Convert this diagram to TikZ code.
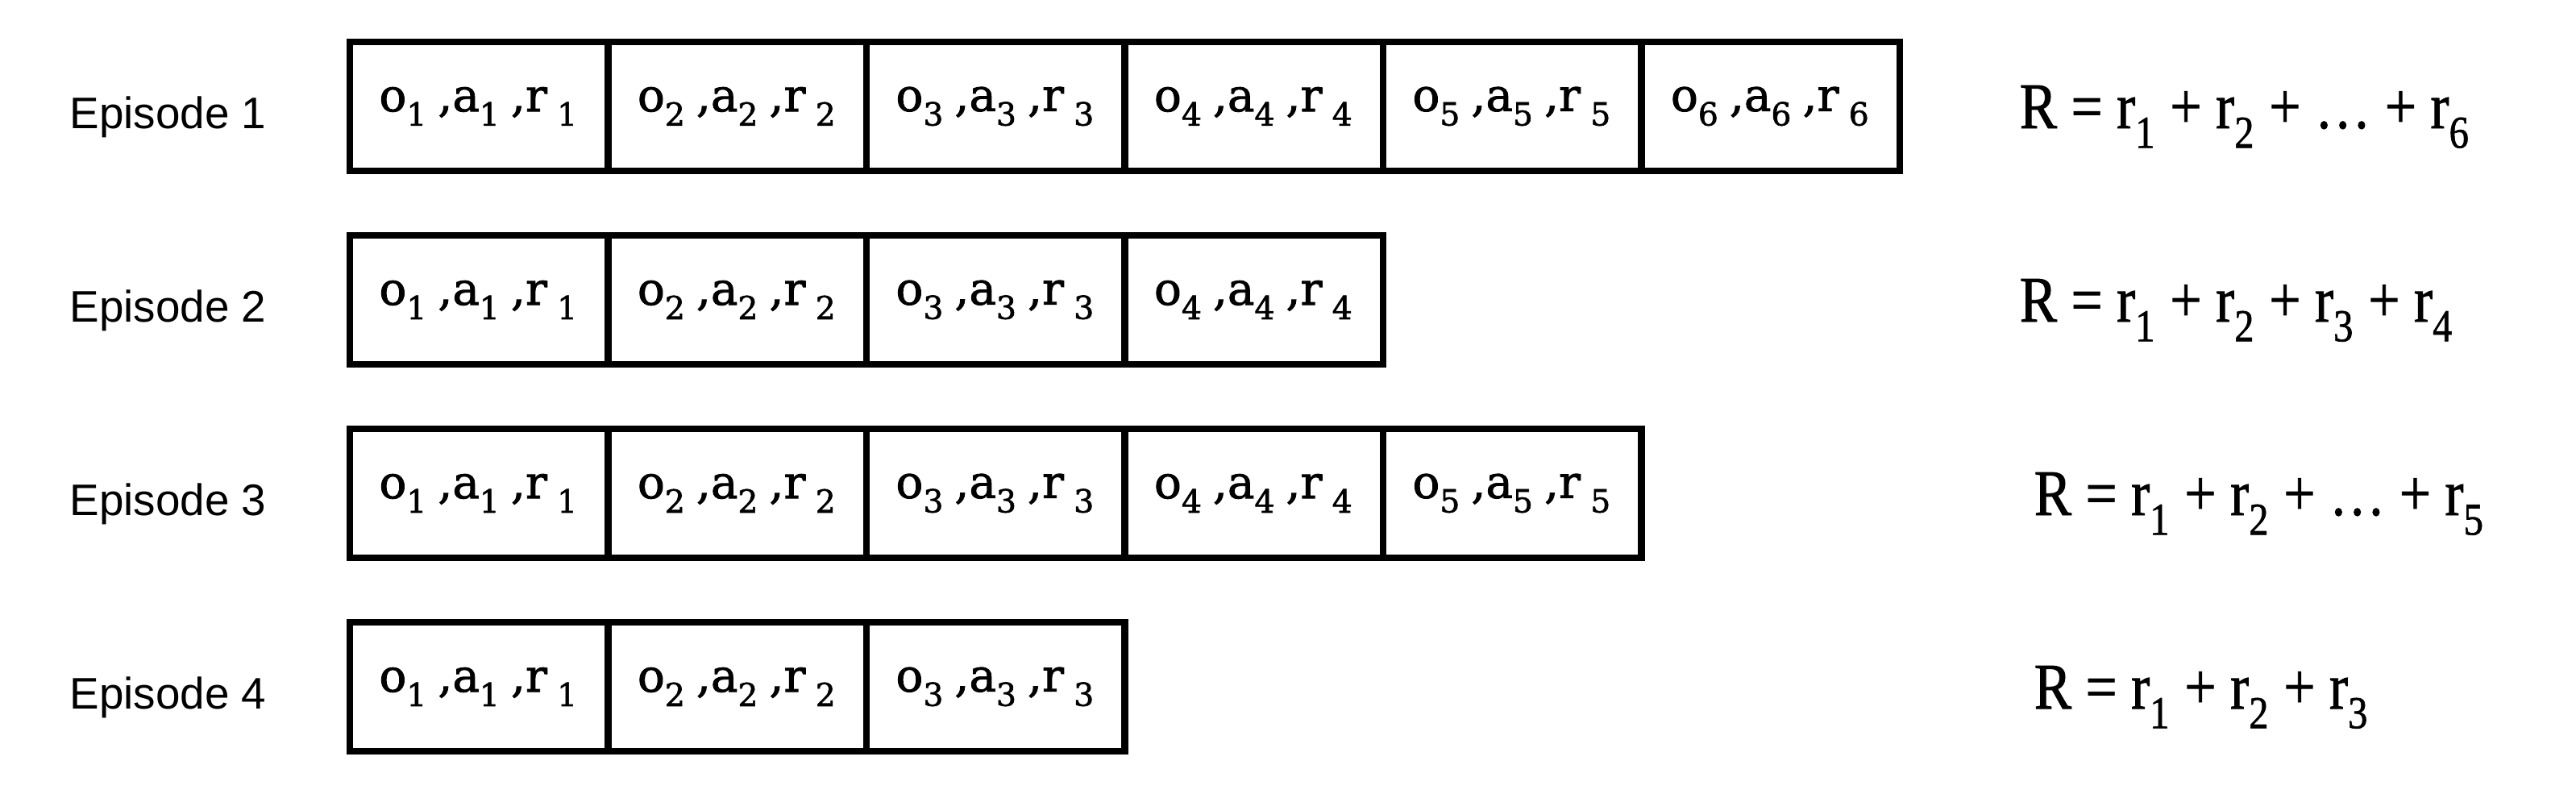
\documentclass[tikz,border=0pt]{standalone}
\usepackage{fontspec}
\usepackage{graphicx}
\setmainfont[FakeBold=1.2]{Liberation Serif}
\newfontfamily\labelfont{Liberation Sans}
\newfontfamily\cellfont[FakeBold=1.6]{DejaVu Serif}
\usetikzlibrary{positioning}
% subindice algo mas bajo que \textsubscript
\newcommand{\lowsub}[1]{\raisebox{-0.3ex}{\textsubscript{#1}}}
% contenido de una celda: o_k , a_k , r_k
\newcommand{\obsact}[1]{o\lowsub{#1}\hspace{0.22em},a\lowsub{#1}\hspace{0.22em},r\hspace{0.22em}\lowsub{#1}}
\newcommand{\sumtxt}[1]{\scalebox{0.86}[1]{#1}}

\begin{document}
\begin{tikzpicture}[
  cellbox/.style={draw,line width=2.5pt,minimum width=3.205cm,minimum height=1.60cm,inner sep=0pt,outer sep=0pt,font=\cellfont\fontsize{16}{19}\selectfont},
  eplabel/.style={anchor=base west,inner sep=0pt,font=\labelfont\fontsize{15.6}{18}\selectfont},
  rsum/.style={anchor=base west,inner sep=0pt,font=\fontsize{23}{27}\selectfont}]
  \useasboundingbox (0,0) rectangle (31.96,-9.84);
  % ===================== episodio 1 =====================
  \node[eplabel] (ep1) at (0.86,-1.59) {Episode 1};
  \node[cellbox,anchor=west] (c11) at (4.34,-1.32) {\obsact{1}};
  \foreach \k [count=\j from 2] in {1,...,5}
    \node[cellbox,right=0pt of c1\k] (c1\j) {\obsact{\j}};
  \node[rsum] (sum1) at (25.05,-1.59) {\sumtxt{R = r\lowsub{1} + r\lowsub{2} + \ldots\ + r\lowsub{6}}};
  % ===================== episodio 2 =====================
  \node[eplabel] (ep2) at (0.86,-3.99) {Episode 2};
  \node[cellbox,anchor=west] (c21) at (4.34,-3.72) {\obsact{1}};
  \foreach \k [count=\j from 2] in {1,...,3}
    \node[cellbox,right=0pt of c2\k] (c2\j) {\obsact{\j}};
  \node[rsum] (sum2) at (25.05,-3.99) {\sumtxt{R = r\lowsub{1} + r\lowsub{2} + r\lowsub{3} + r\lowsub{4}}};
  % ===================== episodio 3 =====================
  \node[eplabel] (ep3) at (0.86,-6.39) {Episode 3};
  \node[cellbox,anchor=west] (c31) at (4.34,-6.12) {\obsact{1}};
  \foreach \k [count=\j from 2] in {1,...,4}
    \node[cellbox,right=0pt of c3\k] (c3\j) {\obsact{\j}};
  \node[rsum] (sum3) at (25.23,-6.39) {\sumtxt{R = r\lowsub{1} + r\lowsub{2} + \ldots\ + r\lowsub{5}}};
  % ===================== episodio 4 =====================
  \node[eplabel] (ep4) at (0.86,-8.79) {Episode 4};
  \node[cellbox,anchor=west] (c41) at (4.34,-8.52) {\obsact{1}};
  \foreach \k [count=\j from 2] in {1,...,2}
    \node[cellbox,right=0pt of c4\k] (c4\j) {\obsact{\j}};
  \node[rsum] (sum4) at (25.23,-8.79) {\sumtxt{R = r\lowsub{1} + r\lowsub{2} + r\lowsub{3}}};
\end{tikzpicture}
\end{document}
